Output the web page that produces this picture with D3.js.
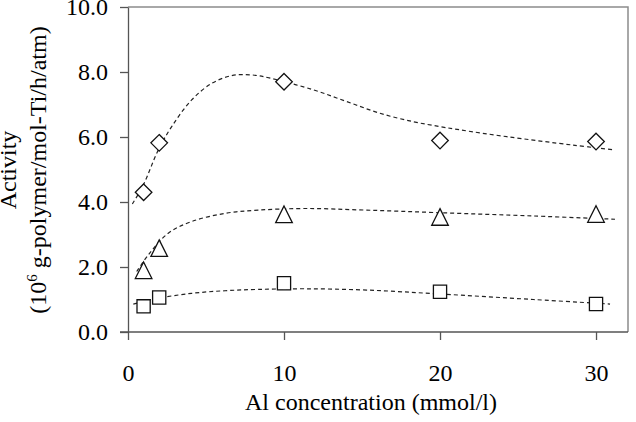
<!DOCTYPE html>
<html>
<head>
<meta charset="utf-8">
<script src="https://cdn.jsdelivr.net/npm/d3@7"></script>
<style>
  body { margin: 0; background: #fff; }
</style>
</head>
<body>
<svg id="chart" width="636" height="422"></svg>
<script>
// measured points
var conc = [1, 2, 10, 20, 30];
var diamondVals = [4.30, 5.82, 7.70, 5.89, 5.86];
var triangleVals = [1.90, 2.58, 3.62, 3.54, 3.63];
var squareVals = [0.79, 1.06, 1.50, 1.24, 0.86];

// dashed fit curves
var diamondFitX = [0.28, 0.98, 1.94, 2.8, 4.08, 5.37, 6.65, 7.93, 9.21, 11.88, 14.02, 16.15, 18.29, 20.0, 21.28, 24.28, 28.54, 31.22];
var diamondFitY = [3.94, 4.52, 5.6, 6.32, 7.14, 7.65, 7.89, 7.91, 7.8, 7.45, 7.09, 6.73, 6.47, 6.32, 6.22, 6.01, 5.75, 5.6];
var triangleFitX = [0.56, 1.3, 2.58, 4.08, 6.22, 8.35, 11.35, 15.3, 20.0, 25.98, 31.22];
var triangleFitY = [1.86, 2.37, 3.04, 3.4, 3.65, 3.75, 3.8, 3.75, 3.67, 3.57, 3.47];
var squareFitX = [0.34, 1.94, 4.08, 6.22, 8.35, 11.35, 15.3, 20.0, 25.98, 30.9];
var squareFitY = [0.86, 1.04, 1.19, 1.27, 1.31, 1.33, 1.29, 1.17, 1.0, 0.86];

var xTicks = [0, 10, 20, 30];
var yTicks = [0, 2, 4, 6, 8, 10];

var serif = "Liberation Serif, Times New Roman, serif";

var svg = d3.select("#chart")
    .attr("font-family", serif),
    margin = { top: 7, right: 8, bottom: 90, left: 128 },
    iwidth = +svg.attr("width") - margin.left - margin.right,
    iheight = +svg.attr("height") - margin.top - margin.bottom,
    g = svg.append("g").attr("transform", "translate(" + margin.left + "," + margin.top + ")");

var x = d3.scaleLinear().domain([0, 32.05]).range([0, iwidth]);
var y = d3.scaleLinear().domain([0, 10]).range([iheight, 0]);

// frame top/right
g.append("path")
  .attr("d", "M0,0H" + iwidth + "V" + iheight)
  .attr("fill", "none")
  .attr("stroke", "#8c8c8c")
  .attr("stroke-width", 1.5);

var xAxis = g.append("g")
  .attr("transform", "translate(0," + iheight + ")")
  .call(d3.axisBottom(x).tickValues(xTicks).tickSize(8).tickPadding(24).tickSizeOuter(0));
var yAxis = g.append("g")
  .call(d3.axisLeft(y).tickValues(yTicks).tickFormat(d3.format(".1f")).tickSize(8).tickPadding(12).tickSizeOuter(0));

[xAxis, yAxis].forEach(function (a) {
  a.attr("font-family", serif).attr("font-size", 24);
  a.select(".domain").attr("stroke", "#555").attr("stroke-width", 1.3);
  a.selectAll(".tick line").attr("stroke", "#555").attr("stroke-width", 1.3);
  a.selectAll(".tick text").attr("fill", "#000");
});
// bottom axis runs under the y tick at 0
xAxis.select(".domain").attr("d", "M-8,0H" + iwidth);

var line = d3.line()
  .x(function (d) { return x(d[0]); })
  .y(function (d) { return y(d[1]); })
  .curve(d3.curveCatmullRom.alpha(0.5));

var fits = [
  d3.zip(diamondFitX, diamondFitY),
  d3.zip(triangleFitX, triangleFitY),
  d3.zip(squareFitX, squareFitY)
];
g.selectAll(".fit")
  .data(fits).enter().append("path")
  .attr("class", "fit")
  .attr("d", line)
  .attr("fill", "none")
  .attr("stroke", "#222")
  .attr("stroke-width", 1.2)
  .attr("stroke-dasharray", "4,3");

// marker shapes, relative to the point
var shapes = {
  diamond: function (r) { return "M0," + (-r) + "L" + r + ",0L0," + r + "L" + (-r) + ",0Z"; },
  triangle: function (r) { return "M0," + (-r) + "L" + r + "," + r + "L" + (-r) + "," + r + "Z"; },
  square: function (r) { return "M" + (-r) + "," + (-r) + "H" + r + "V" + r + "H" + (-r) + "Z"; }
};

var series = [
  { shape: "diamond", r: 8.3, vals: diamondVals },
  { shape: "triangle", r: 8.3, vals: triangleVals },
  { shape: "square", r: 6.6, vals: squareVals }
];

series.forEach(function (s) {
  g.selectAll(null)
    .data(d3.zip(conc, s.vals)).enter().append("path")
    .attr("transform", function (d) { return "translate(" + x(d[0]) + "," + y(d[1]) + ")"; })
    .attr("d", shapes[s.shape](s.r))
    .attr("fill", "#fff")
    .attr("stroke", "#111")
    .attr("stroke-width", 1.3);
});

// axis titles
svg.append("text")
  .attr("x", 371)
  .attr("y", 410)
  .attr("text-anchor", "middle")
  .attr("font-size", 24)
  .text("Al concentration (mmol/l)");

var yt = svg.append("g").attr("transform", "translate(0,170) rotate(-90)");
yt.append("text")
  .attr("x", 0).attr("y", 16)
  .attr("text-anchor", "middle")
  .attr("font-size", 24)
  .text("Activity");
var t2 = yt.append("text")
  .attr("x", 0).attr("y", 46)
  .attr("text-anchor", "middle")
  .attr("font-size", 24);
t2.append("tspan").text("(10");
t2.append("tspan").attr("dy", -9).attr("font-size", 15).text("6");
t2.append("tspan").attr("dy", 9).text(" g-polymer/mol-Ti/h/atm)");
</script>
</body>
</html>
